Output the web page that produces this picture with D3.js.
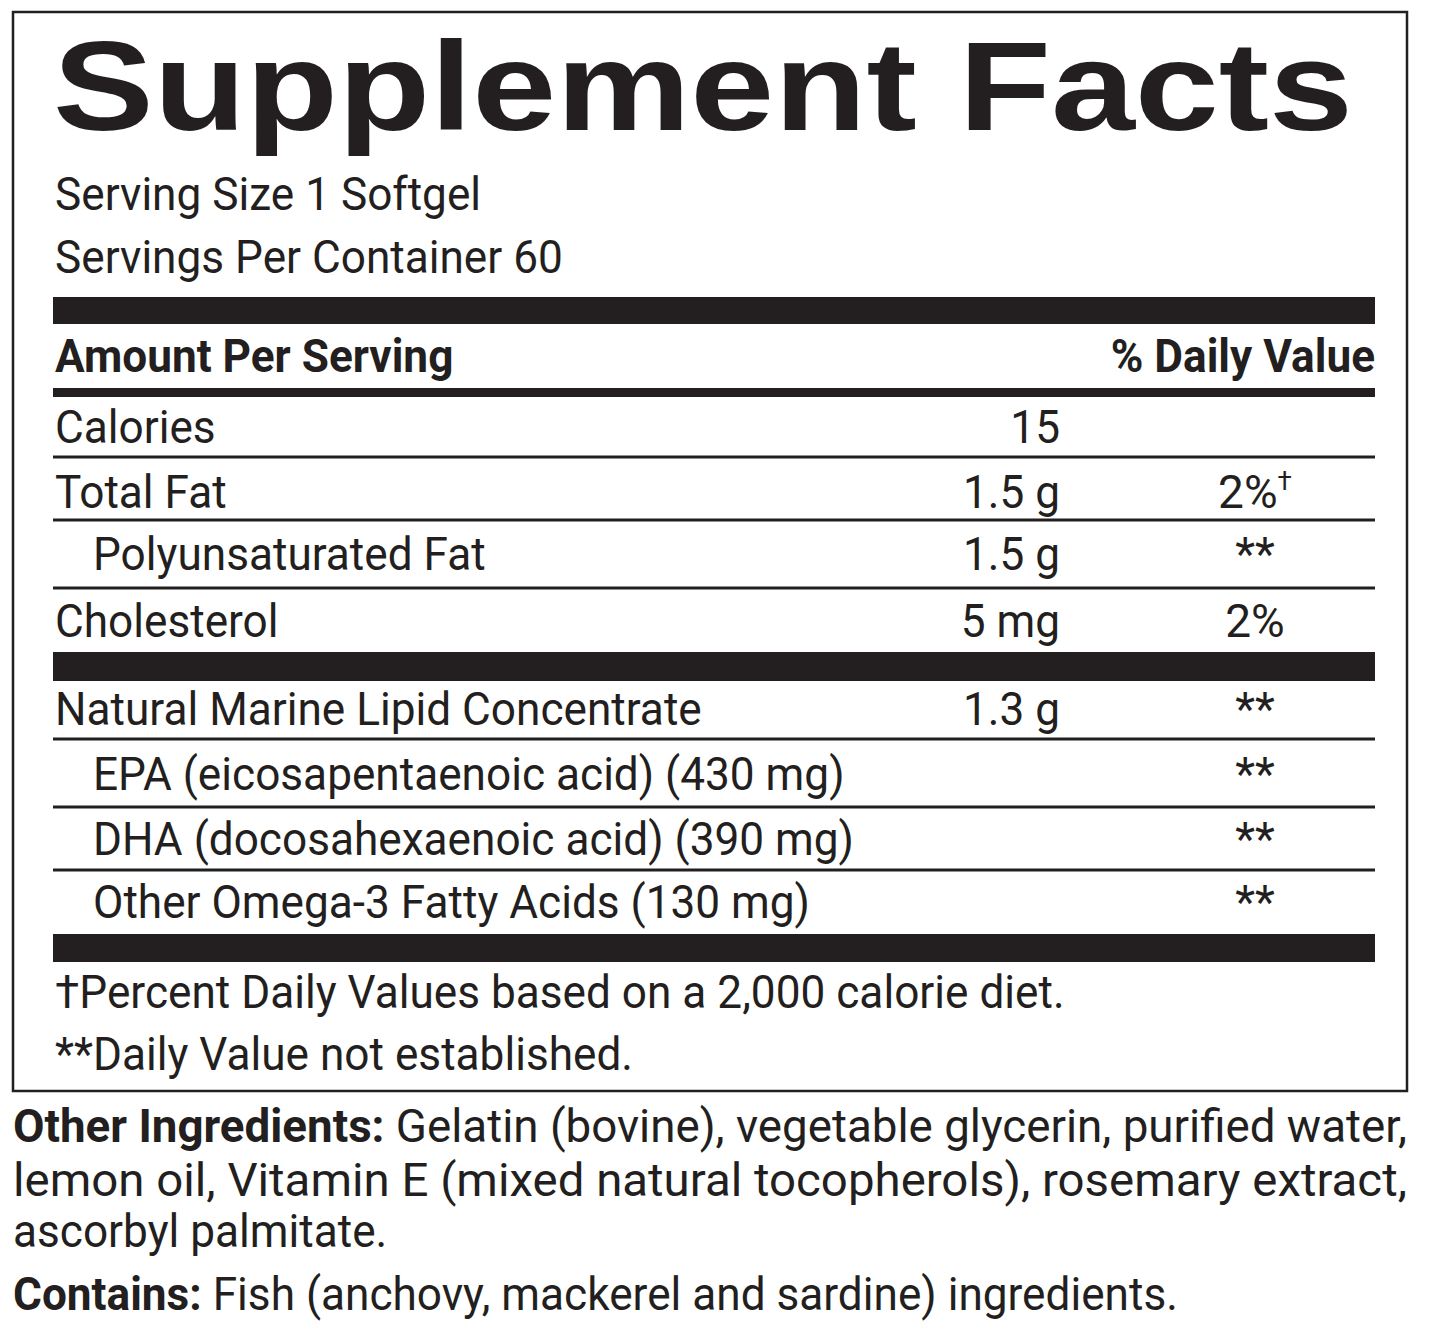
<!DOCTYPE html>
<html><head><meta charset="utf-8">
<script src="https://cdn.jsdelivr.net/npm/d3@7"></script>
<style>body{margin:0;background:#fff}text{fill:#231f20}</style>
</head><body><div id="label"></div>
<script>
// label content
let servingLines = ["Serving Size 1 Softgel", "Servings Per Container 60"];
let nutrients = ["Calories", "Total Fat", "Polyunsaturated Fat", "Cholesterol",
    "Natural Marine Lipid Concentrate", "EPA (eicosapentaenoic acid) (430 mg)",
    "DHA (docosahexaenoic acid) (390 mg)", "Other Omega-3 Fatty Acids (130 mg)"];
let amounts = ["15", "1.5 g", "1.5 g", "5 mg", "1.3 g", "", "", ""];
let dailyValues = ["", "2%", "**", "2%", "**", "**", "**", "**"];
let daggers = ["", "†", "", "", "", "", "", ""];
let indented = [false, false, true, false, false, true, true, true];
let footnotes = ["†Percent Daily Values based on a 2,000 calorie diet.", "**Daily Value not established."];

let font = "'Liberation Sans Narrow', 'Arial Narrow', 'Roboto', sans-serif";
let ink = "#231f20";
let svg = d3.select("div#label").append("svg").attr("width", 1445).attr("height", 1337);

let _l = {left: 55, right: 1375, amountX: 1060, dvX: 1255, fs: 46};

svg.append("rect").attr("x", 13).attr("y", 12).attr("width", 1394).attr("height", 1079)
    .attr("fill", "none").attr("stroke", ink).attr("stroke-width", 2.5);

svg.append("text").attr("x", 53).attr("y", 130).attr("class", "fixed")
    .attr("font-family", "'Liberation Sans', Arial, sans-serif").attr("font-weight", 900)
    .attr("font-size", 126).attr("textLength", 1300).attr("lengthAdjust", "spacingAndGlyphs")
    .text("Supplement Facts");

svg.selectAll("text.serv").data(servingLines).enter().append("text")
    .attr("x", _l.left).attr("y", (d, i) => 210 + i * 63)
    .attr("font-family", font).attr("font-size", _l.fs).text(d => d);

let bar = (y, h) => svg.append("rect").attr("x", 53).attr("y", y).attr("width", 1322).attr("height", h).attr("fill", ink);
bar(297, 27); bar(388, 9); bar(652, 29); bar(934, 28);

svg.append("text").attr("x", _l.left).attr("y", 372).attr("font-family", font).attr("font-weight", "bold")
    .attr("font-size", _l.fs).text("Amount Per Serving");
svg.append("text").attr("x", _l.right).attr("y", 372).attr("text-anchor", "end").attr("font-family", font)
    .attr("font-weight", "bold").attr("font-size", _l.fs).text("% Daily Value");

let baselines = [443, 508, 570, 637, 725, 790, 855, 918];
let lines = [457, 520, 588, null, 739, 807, 870, null];
let y = d3.scaleOrdinal().domain(nutrients).range(baselines);

let g = svg.selectAll("g.row").data(nutrients).enter().append("g")
    .attr("transform", d => `translate(0, ${y(d)})`);
g.append("text").attr("x", (d, i) => indented[i] ? 93 : _l.left)
    .attr("font-family", font).attr("font-size", _l.fs).text(d => d);
g.append("text").attr("x", _l.amountX).attr("text-anchor", "end")
    .attr("font-family", font).attr("font-size", _l.fs).text((d, i) => amounts[i]);
let dv = g.append("text").attr("x", _l.dvX).attr("text-anchor", "middle").attr("class", "fixed")
    .attr("font-family", font).attr("font-size", _l.fs);
dv.append("tspan").text((d, i) => dailyValues[i]);
dv.append("tspan").attr("dy", -18).attr("font-size", 26).text((d, i) => daggers[i]);

lines.forEach(ly => { if (ly) bar(ly - 1.5, 3); });

svg.selectAll("text.foot").data(footnotes).enter().append("text")
    .attr("x", _l.left).attr("y", (d, i) => 1008 + i * 62)
    .attr("font-family", font).attr("font-size", _l.fs).text(d => d);

// squeeze the wide fallback font a little to look condensed
svg.selectAll("text").filter(function() { return !this.classList.contains("fixed"); })
    .each(function() {
        let w = this.getComputedTextLength();
        if (w > 0) d3.select(this).attr("textLength", w * 0.96).attr("lengthAdjust", "spacingAndGlyphs");
    });

// ingredients below the box
let ing = [
    {b: "Other Ingredients: ", t: "Gelatin (bovine), vegetable glycerin, purified water,", y: 1142, j: true},
    {b: "", t: "lemon oil, Vitamin E (mixed natural tocopherols), rosemary extract,", y: 1196, j: true},
    {b: "", t: "ascorbyl palmitate.", y: 1247, j: false},
    {b: "Contains: ", t: "Fish (anchovy, mackerel and sardine) ingredients.", y: 1310, j: false}
];
ing.forEach(r => {
    let t = svg.append("text").attr("x", 13).attr("y", r.y).attr("font-family", font).attr("font-size", _l.fs);
    if (r.b) t.append("tspan").attr("font-weight", "bold").text(r.b);
    t.append("tspan").text(r.t);
    if (r.j) t.attr("textLength", 1394).attr("lengthAdjust", "spacingAndGlyphs");
    else t.attr("textLength", t.node().getComputedTextLength() * 0.96).attr("lengthAdjust", "spacingAndGlyphs");
});
</script></body></html>
